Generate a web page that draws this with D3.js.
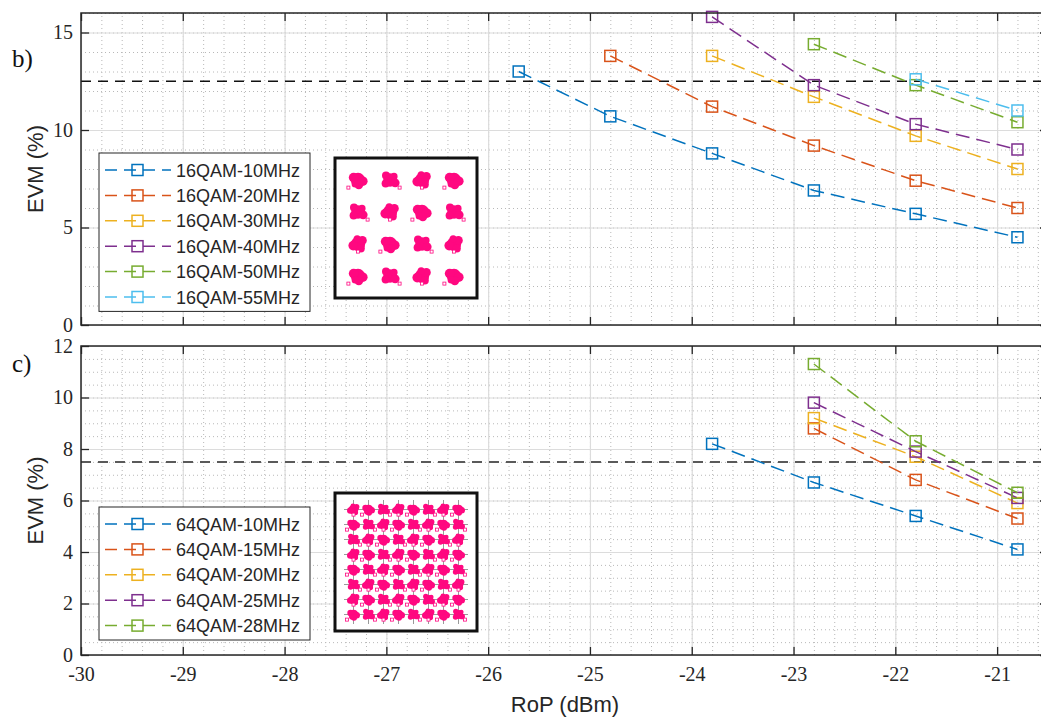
<!DOCTYPE html>
<html>
<head>
<meta charset="utf-8">
<script src="https://cdn.jsdelivr.net/npm/d3@7"></script>
<style>
  body { margin: 0; background: #fff; }
</style>
</head>
<body>
<script>
// received optical power (dBm) at which points were measured
var rop = [-25.7, -24.8, -23.8, -22.8, -21.8, -20.8];

var xTicks = [-30, -29, -28, -27, -26, -25, -24, -23, -22, -21];
var topYTicks = [0, 5, 10, 15];
var botYTicks = [0, 2, 4, 6, 8, 10, 12];

// panel b) 16QAM
var names16 = ["16QAM-10MHz", "16QAM-20MHz", "16QAM-30MHz", "16QAM-40MHz", "16QAM-50MHz", "16QAM-55MHz"];
var evm16_10 = [13.0, 10.7, 8.8, 6.9, 5.7, 4.5];
var evm16_20 = [13.8, 11.2, 9.2, 7.4, 6.0];
var evm16_30 = [13.8, 11.7, 9.7, 8.0];
var evm16_40 = [15.8, 12.3, 10.3, 9.0];
var evm16_50 = [14.4, 12.3, 10.4];
var evm16_55 = [12.6, 11.0];

// panel c) 64QAM
var names64 = ["64QAM-10MHz", "64QAM-15MHz", "64QAM-20MHz", "64QAM-25MHz", "64QAM-28MHz"];
var evm64_10 = [8.2, 6.7, 5.4, 4.1];
var evm64_15 = [8.8, 6.8, 5.3];
var evm64_20 = [9.2, 7.7, 5.9];
var evm64_25 = [9.8, 7.9, 6.1];
var evm64_28 = [11.3, 8.3, 6.3];

var thr16 = 12.5;
var thr64 = 7.5;

var qam16Levels = [-3, -1, 1, 3];
var qam64Levels = [-7, -5, -3, -1, 1, 3, 5, 7];

var colors = ["#0072BD", "#D95319", "#EDB120", "#7E2F8E", "#77AC30", "#4DBEEE"];

var SERIF = "'Liberation Serif', 'Times New Roman', serif";
var SANS = "'Liberation Sans', Arial, sans-serif";

var W = 1041, H = 718;
var left = 81, right = 1048;

var svg = d3.select("body").append("svg")
    .attr("width", W)
    .attr("height", H);

var x = d3.scaleLinear().domain([-30, -20.5]).range([left, right]);

// series are measured at the last n powers
function pairs(ys) {
    var xs = rop.slice(rop.length - ys.length);
    return ys.map(function(v, i) { return [xs[i], v]; });
}

function drawPanel(p) {
    var y = p.y;
    var top = y.range()[1], bottom = y.range()[0];
    var g = svg.append("g");

    // minor dotted grid
    g.append("g")
        .attr("transform", "translate(0," + bottom + ")")
        .call(d3.axisBottom(x).tickValues(d3.range(-30, -20.5, 0.2)).tickSize(-(bottom - top)).tickFormat(""))
        .call(function(s) { s.select(".domain").remove(); })
        .selectAll("line").attr("stroke", "#b8b8b8").attr("stroke-dasharray", "1,3");
    g.append("g")
        .attr("transform", "translate(" + left + ",0)")
        .call(d3.axisLeft(y).tickValues(d3.range(0, y.domain()[1] + 0.01, p.minor)).tickSize(-(right - left)).tickFormat(""))
        .call(function(s) { s.select(".domain").remove(); })
        .selectAll("line").attr("stroke", "#b8b8b8").attr("stroke-dasharray", "1,3");

    // major grid
    g.append("g")
        .attr("transform", "translate(0," + bottom + ")")
        .call(d3.axisBottom(x).tickValues(xTicks).tickSize(-(bottom - top)).tickFormat(""))
        .call(function(s) { s.select(".domain").remove(); })
        .selectAll("line").attr("stroke", "#dcdcdc").attr("stroke-width", 1.2);
    g.append("g")
        .attr("transform", "translate(" + left + ",0)")
        .call(d3.axisLeft(y).tickValues(p.ticks).tickSize(-(right - left)).tickFormat(""))
        .call(function(s) { s.select(".domain").remove(); })
        .selectAll("line").attr("stroke", "#dcdcdc").attr("stroke-width", 1.2);

    // threshold
    g.append("line")
        .attr("x1", left).attr("x2", right)
        .attr("y1", y(p.thr)).attr("y2", y(p.thr))
        .attr("stroke", p.thrColor)
        .attr("stroke-width", p.thrWidth)
        .attr("stroke-dasharray", "10,7");

    var line = d3.line()
        .x(function(d) { return x(d[0]); })
        .y(function(d) { return y(d[1]); });

    p.series.forEach(function(s, i) {
        var pts = pairs(s);
        g.append("path")
            .datum(pts)
            .attr("d", line)
            .attr("fill", "none")
            .attr("stroke", colors[i])
            .attr("stroke-width", 1.5)
            .attr("stroke-dasharray", "14,7");
        g.selectAll(null)
            .data(pts)
            .enter()
            .append("rect")
            .attr("x", function(d) { return x(d[0]) - 5.5; })
            .attr("y", function(d) { return y(d[1]) - 5.5; })
            .attr("width", 11)
            .attr("height", 11)
            .attr("fill", "none")
            .attr("stroke", colors[i])
            .attr("stroke-width", 1.5);
    });

    // legend
    var lg = g.append("g");
    var rowH = 25.4;
    lg.append("rect")
        .attr("x", 99).attr("y", p.legTop)
        .attr("width", 211).attr("height", p.names.length * rowH + 6)
        .attr("fill", "#fff").attr("stroke", "#262626").attr("stroke-width", 1);
    p.names.forEach(function(n, i) {
        var cy = p.legTop + 17 + i * rowH;
        lg.append("line")
            .attr("x1", 105).attr("x2", 171).attr("y1", cy).attr("y2", cy)
            .attr("stroke", colors[i]).attr("stroke-width", 1.5)
            .attr("stroke-dasharray", "12,7");
        lg.append("rect")
            .attr("x", 132).attr("y", cy - 5.5).attr("width", 11).attr("height", 11)
            .attr("fill", "none").attr("stroke", colors[i]).attr("stroke-width", 1.5);
        lg.append("text")
            .attr("x", 176).attr("y", cy + 6.5)
            .style("font-family", SANS)
            .style("font-size", "18px")
            .attr("fill", "#262626")
            .text(n);
    });

    // constellation inset
    var ins = g.append("g");
    ins.append("rect")
        .attr("x", 335).attr("y", p.insTop)
        .attr("width", 142).attr("height", p.insH)
        .attr("fill", "#fff").attr("stroke", "#111").attr("stroke-width", 3);
    var cx = 406, cyc = p.insTop + p.insH / 2;
    var lv = p.levels;
    var step = p.step;
    if (p.gridLines) {
        lv.forEach(function(l) {
            ins.append("line").attr("x1", cx + l * step).attr("x2", cx + l * step)
                .attr("y1", cyc - 62).attr("y2", cyc + 62)
                .attr("stroke", "#9a9a9a").attr("stroke-width", 1);
            ins.append("line").attr("y1", cyc + l * step).attr("y2", cyc + l * step)
                .attr("x1", cx - 62).attr("x2", cx + 62)
                .attr("stroke", "#9a9a9a").attr("stroke-width", 1);
        });
    }
    var blobs = [
        [[0, 0, 0.9], [-0.55, -0.3, 0.6], [0.6, 0.15, 0.6], [0.1, 0.6, 0.55], [-0.35, 0.5, 0.45]],
        [[0, 0, 0.9], [0.55, -0.45, 0.55], [-0.6, 0.2, 0.6], [0.35, 0.55, 0.5], [-0.1, -0.65, 0.45]],
        [[0, 0, 0.85], [-0.5, -0.55, 0.5], [0.65, 0.35, 0.55], [-0.55, 0.45, 0.5], [0.5, -0.45, 0.45]]
    ];
    var pts = [];
    lv.forEach(function(a, i) {
        lv.forEach(function(b, j) { pts.push([a, b, (i * 2 + j) % 3]); });
    });
    pts.forEach(function(q) {
        var px = cx + q[0] * step, py = cyc - q[1] * step;
        blobs[q[2]].forEach(function(b) {
            ins.append("circle")
                .attr("cx", px + b[0] * p.r)
                .attr("cy", py + b[1] * p.r)
                .attr("r", b[2] * p.r)
                .attr("fill", "#ff0880");
        });
        ins.append("rect")
            .attr("x", px + (q[2] - 1) * p.r * 1.2 - 1.5)
            .attr("y", py + p.r * 0.95 - 1.5)
            .attr("width", 3).attr("height", 3)
            .attr("fill", "#fff").attr("stroke", "#ff0880").attr("stroke-width", 0.8);
    });

    // frame and inward ticks
    g.append("rect")
        .attr("x", left).attr("y", top)
        .attr("width", right - left).attr("height", bottom - top)
        .attr("fill", "none").attr("stroke", "#262626").attr("stroke-width", 1.5);

    g.append("g")
        .attr("class", "ax")
        .attr("transform", "translate(0," + bottom + ")")
        .call(d3.axisBottom(x).tickValues(xTicks).tickSize(-8).tickSizeOuter(0).tickPadding(12)
            .tickFormat(function(d) { return p.xLabels ? String(d) : ""; }));
    g.append("g")
        .attr("class", "ax")
        .attr("transform", "translate(0," + top + ")")
        .call(d3.axisTop(x).tickValues(xTicks).tickSize(-8).tickSizeOuter(0).tickFormat(""));
    g.append("g")
        .attr("class", "ax")
        .attr("transform", "translate(" + left + ",0)")
        .call(d3.axisLeft(y).tickValues(p.ticks).tickSize(-8).tickSizeOuter(0).tickPadding(8));
    g.append("g")
        .attr("class", "ax")
        .attr("transform", "translate(" + right + ",0)")
        .call(d3.axisRight(y).tickValues(p.ticks).tickSize(-8).tickSizeOuter(0).tickFormat(""));

    g.selectAll(".ax .domain").remove();
    g.selectAll(".ax .tick line").attr("stroke", "#262626").attr("stroke-width", 1.3);
    g.selectAll(".ax .tick text")
        .style("font-family", SERIF)
        .style("font-size", "20px")
        .attr("fill", "#262626");

    // y label
    g.append("text")
        .attr("transform", "translate(43," + ((top + bottom) / 2) + ") rotate(-90)")
        .attr("text-anchor", "middle")
        .style("font-family", SANS)
        .style("font-size", "22px")
        .attr("fill", "#262626")
        .text("EVM (%)");

    // panel letter
    svg.append("text")
        .attr("x", 12).attr("y", p.letterY)
        .style("font-family", SERIF)
        .style("font-size", "25px")
        .attr("fill", "#111")
        .text(p.letter);
}

drawPanel({
    y: d3.scaleLinear().domain([0, 16]).range([325, 13]),
    ticks: topYTicks,
    minor: 1,
    series: [evm16_10, evm16_20, evm16_30, evm16_40, evm16_50, evm16_55],
    names: names16,
    thr: thr16, thrColor: "#111", thrWidth: 1.5,
    legTop: 153,
    insTop: 158, insH: 140,
    levels: qam16Levels, step: 16, r: 8, gridLines: false,
    xLabels: false,
    letter: "b)", letterY: 67
});

drawPanel({
    y: d3.scaleLinear().domain([0, 12]).range([655, 346]),
    ticks: botYTicks,
    minor: 0.5,
    series: [evm64_10, evm64_15, evm64_20, evm64_25, evm64_28],
    names: names64,
    thr: thr64, thrColor: "#5a5a5a", thrWidth: 2,
    legTop: 507,
    insTop: 493, insH: 138,
    levels: qam64Levels, step: 7.5, r: 5.4, gridLines: true,
    xLabels: true,
    letter: "c)", letterY: 372
});

svg.append("text")
    .attr("x", 565).attr("y", 712)
    .attr("text-anchor", "middle")
    .style("font-family", SANS)
    .style("font-size", "22px")
    .attr("fill", "#262626")
    .text("RoP (dBm)");
</script>
</body>
</html>
